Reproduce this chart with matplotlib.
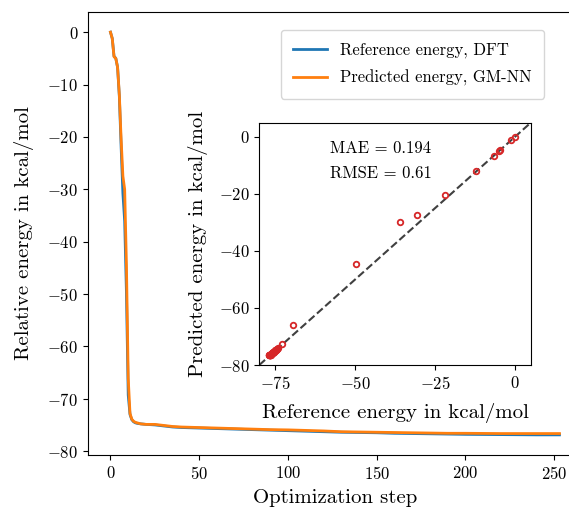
import numpy as np
import matplotlib
matplotlib.use("Agg")
from matplotlib import pyplot as plt

plt.rcParams['font.family'] = 'cmr10'
plt.rcParams['mathtext.fontset'] = 'cm'
plt.rcParams['axes.formatter.use_mathtext'] = True

# optimization steps and energies (kcal/mol, relative to start)
step = [0, 1, 2, 3, 4, 5, 6, 7, 8, 9, 10, 11, 12, 13, 14, 15, 17, 20, 25, 30,
        35, 40, 50, 60, 70, 80, 90, 100, 110, 120, 130, 140, 150, 160, 170,
        180, 190, 200, 220, 240, 253]
e_ref = [0.0, -1.2, -4.6, -5.0, -6.7, -12.3, -21.9, -30.8, -36.1, -49.8,
         -69.3, -73.0, -74.0, -74.4, -74.6, -74.7, -74.8, -74.9, -75.0, -75.2,
         -75.4, -75.5, -75.6, -75.7, -75.8, -75.9, -76.0, -76.1, -76.2, -76.3,
         -76.4, -76.45, -76.5, -76.6, -76.65, -76.7, -76.75, -76.8, -76.85,
         -76.9, -76.9]
e_pred = [0.0, -1.2, -4.7, -5.0, -6.7, -12.0, -20.4, -27.5, -30.0, -44.5,
          -66.1, -72.8, -73.9, -74.3, -74.5, -74.6, -74.8, -74.9, -74.9, -75.1,
          -75.3, -75.4, -75.5, -75.6, -75.7, -75.8, -75.9, -75.95, -76.05,
          -76.15, -76.3, -76.35, -76.4, -76.45, -76.5, -76.55, -76.6, -76.6,
          -76.65, -76.65, -76.65]
mae = 0.194
rmse = 0.61

fig = plt.figure(figsize=(5.69, 5.09), dpi=100)
ax = fig.add_axes([0.1547, 0.1061, 0.868, 0.8703])
ax.plot(step, e_ref, color="#1f77b4", lw=2, label="Reference energy, DFT")
ax.plot(step, e_pred, color="#ff7f0e", lw=2, label="Predicted energy, GM-NN")
ax.set_xticks([0, 50, 100, 150, 200, 250])
ax.set_yticks([0, -10, -20, -30, -40, -50, -60, -70, -80])
ax.tick_params(labelsize=12)
ax.set_xlabel("Optimization step", fontsize=15, labelpad=5)
ax.set_ylabel("Relative energy in kcal/mol", fontsize=15, labelpad=10)
ax.legend(loc="upper right", bbox_to_anchor=(544/569, 1-30/509),
          bbox_transform=fig.transFigure, fontsize=12, borderaxespad=0,
          borderpad=0.75, labelspacing=0.7)

# inset: parity plot
ins = fig.add_axes([0.4557, 0.2829, 0.4775, 0.4764])
ins.plot([-80, 5], [-80, 5], "--", color="#404040", lw=1.5)
ins.plot(e_ref, e_pred, "o", mfc="none", mec="#d62728", ms=4, mew=1.3)
ins.set_xlim(-80, 5)
ins.set_ylim(-80, 5)
ins.set_xticks([-75, -50, -25, 0])
ins.set_yticks([0, -20, -40, -60, -80])
ins.tick_params(labelsize=12)
ins.set_xlabel("Reference energy in kcal/mol", fontsize=15, labelpad=8)
ins.set_ylabel("Predicted energy in kcal/mol", fontsize=15, labelpad=8)
ins.text(0.26, 0.925, "MAE = %.3f" % mae, transform=ins.transAxes,
         fontsize=12, va="top")
ins.text(0.26, 0.82, "RMSE = %.2f" % rmse, transform=ins.transAxes,
         fontsize=12, va="top")

fig.savefig("out.png", dpi=100)
